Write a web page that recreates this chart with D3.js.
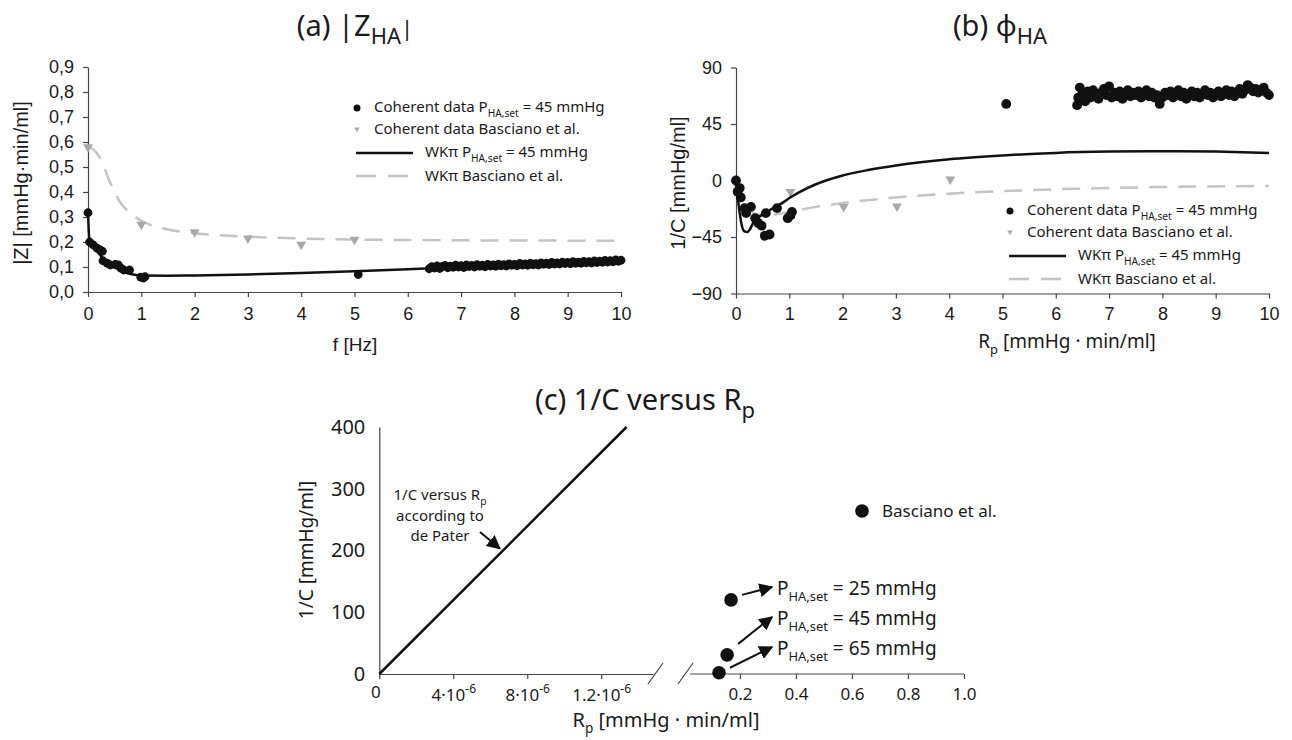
<!DOCTYPE html>
<html>
<head>
<meta charset="utf-8">
<title>WKπ impedance fit</title>
<script src="https://cdn.jsdelivr.net/npm/d3@7"></script>
<style>
  body { margin: 0; background: #fff; }
  text { font-family: "Noto Sans", "Open Sans", sans-serif; fill: #1a1a1a; }
  .num text, text.num { font-family: "Liberation Sans", Arial, sans-serif; }
  .axis path, .axis line { stroke: #444; stroke-width: 1.2; }
</style>
</head>
<body>
<div id="chart"></div>
<script>
// ---- panel (a) |Z_HA| ----
var zTicksX = [0,1,2,3,4,5,6,7,8,9,10];
var zTicksY = [0,0.1,0.2,0.3,0.4,0.5,0.6,0.7,0.8,0.9];
var zCoherent = [[0,0.317],[0.03,0.2],[0.1,0.188],[0.17,0.175],[0.23,0.168],[0.27,0.163],[0.28,0.125],[0.36,0.115],[0.42,0.108],[0.51,0.11],[0.57,0.108],[0.62,0.095],[0.67,0.088],[0.78,0.088],[0.99,0.059],[1.04,0.056],[1.07,0.061],[5.07,0.07],
  [6.4,0.093],[6.45,0.101],[6.5,0.096],[6.55,0.104],[6.6,0.094],[6.65,0.102],[6.7,0.106],[6.75,0.097],[6.8,0.103],[6.85,0.099],[6.9,0.107],[6.95,0.1],[7.0,0.105],[7.05,0.098],[7.1,0.108],[7.15,0.102],[7.2,0.106],[7.25,0.1],[7.3,0.109],[7.35,0.103],[7.4,0.107],[7.45,0.101],[7.5,0.11],[7.55,0.104],[7.6,0.108],[7.65,0.103],[7.7,0.111],[7.75,0.105],[7.8,0.109],[7.85,0.104],[7.9,0.112],[7.95,0.107],[8.0,0.11],[8.05,0.105],[8.1,0.114],[8.15,0.108],[8.2,0.112],[8.25,0.107],[8.3,0.115],[8.35,0.109],[8.4,0.113],[8.45,0.108],[8.5,0.116],[8.55,0.111],[8.6,0.115],[8.65,0.11],[8.7,0.118],[8.75,0.112],[8.8,0.116],[8.85,0.112],[8.9,0.119],[8.95,0.114],[9.0,0.118],[9.05,0.113],[9.1,0.121],[9.15,0.115],[9.2,0.119],[9.25,0.115],[9.3,0.122],[9.35,0.117],[9.4,0.121],[9.45,0.116],[9.5,0.124],[9.55,0.118],[9.6,0.123],[9.65,0.119],[9.7,0.126],[9.75,0.12],[9.8,0.125],[9.85,0.121],[9.9,0.128],[9.95,0.123],[10.0,0.127]];
var zBasciano = [[0,0.58],[1,0.27],[2,0.24],[3,0.215],[4,0.19],[5,0.21]];
var zFit = [[0,0.317],[0.03,0.2],[0.1,0.18],[0.2,0.155],[0.3,0.13],[0.4,0.112],[0.5,0.098],[0.6,0.087],[0.7,0.078],[0.8,0.072],[0.9,0.068],[1,0.066],[1.5,0.065],[2,0.066],[3,0.07],[4,0.076],[5,0.083],[6,0.091],[7,0.1],[8,0.109],[9,0.118],[10,0.126]];
var zFitBasciano = [[0,0.58],[0.1,0.57],[0.2,0.545],[0.3,0.5],[0.4,0.445],[0.5,0.4],[0.6,0.36],[0.8,0.315],[1,0.285],[1.5,0.25],[2,0.235],[3,0.221],[4,0.214],[5,0.21],[6,0.208],[8,0.206],[10,0.205]];

// ---- panel (b) phi_HA ----
var pTicksX = [0,1,2,3,4,5,6,7,8,9,10];
var pTicksY = [-90,-45,0,45,90];
var pCoherent = [[0,0],[0.03,-9],[0.07,-6],[0.09,-13.5],[0.16,-22],[0.19,-26],[0.28,-21],[0.36,-30],[0.42,-34],[0.48,-36],[0.54,-44],[0.63,-43],[0.56,-26],[0.77,-22],[0.97,-30],[1.02,-28],[1.05,-25],[5.07,61],
  [6.4,60],[6.42,66],[6.45,74],[6.5,69],[6.55,63],[6.6,71],[6.65,66],[6.7,72],[6.75,68],[6.8,65],[6.85,70],[6.9,73],[6.95,68],[7.0,75],[7.05,66],[7.1,70],[7.15,67],[7.2,71],[7.25,65],[7.3,69],[7.35,72],[7.4,67],[7.45,70],[7.5,68],[7.55,71],[7.6,66],[7.65,69],[7.7,72],[7.75,67],[7.8,70],[7.85,66],[7.9,68],[7.95,61],[8.0,66],[8.05,70],[8.1,68],[8.15,71],[8.2,66],[8.25,69],[8.3,72],[8.35,67],[8.4,70],[8.45,65],[8.5,68],[8.55,71],[8.6,67],[8.65,70],[8.7,66],[8.75,69],[8.8,72],[8.85,68],[8.9,70],[8.95,66],[9.0,69],[9.05,71],[9.1,67],[9.15,70],[9.2,72],[9.25,68],[9.3,71],[9.35,67],[9.4,70],[9.45,73],[9.5,69],[9.55,72],[9.6,76],[9.65,74],[9.7,71],[9.75,73],[9.8,70],[9.85,72],[9.9,74],[9.95,70],[10.0,68]];
var pBasciano = [[0,-2],[1.02,-9],[2.02,-21],[3.02,-20.5],[4.02,1]];
var pFit = [[0,0],[0.03,-12],[0.07,-26],[0.11,-36],[0.16,-40.5],[0.21,-41],[0.26,-39],[0.32,-34],[0.4,-30],[0.5,-27],[0.7,-22],[0.9,-17],[1.0,-14],[1.2,-9],[1.5,-3],[2,4],[2.5,8.5],[3,12],[4,17],[5,20],[6,22],[7,23],[8,23.3],[9,23],[10,22]];
var pFitBasciano = [[0,0],[0.1,-12],[0.2,-20],[0.3,-25],[0.4,-27],[0.6,-27.5],[0.8,-26.5],[1,-25],[1.5,-21],[2,-18],[3,-13.5],[4,-10.5],[5,-8.5],[6,-7],[7,-6],[8,-5.2],[9,-4.7],[10,-4.3]];

// ---- panel (c) 1/C versus Rp ----
var cTicksY = [0,100,200,300,400];
var cTicksLeft = [0, 4e-6, 8e-6, 1.2e-5];
var cTickLeftLabels = [["0",""],["4·10","-6"],["8·10","-6"],["1.2·10","-6"]];
var cTicksRight = [0.2,0.4,0.6,0.8,1.0];
var dePater = [[0,0],[1.337e-5,400]];
var cBasciano = [[0.168,120],[0.154,31],[0.125,2]];
var cSetLabels = ["25","45","65"];

var W = 1292, H = 740;
var svg = d3.select("#chart").append("svg").attr("width", W).attr("height", H);
svg.append("rect").attr("width", W).attr("height", H).attr("fill", "#fff");

// arrow marker
svg.append("defs").append("marker")
  .attr("id", "arr").attr("viewBox", "0 0 10 10").attr("refX", 9).attr("refY", 5)
  .attr("markerWidth", 7).attr("markerHeight", 7).attr("orient", "auto")
  .append("path").attr("d", "M0,0 L10,5 L0,10 z").attr("fill", "#111");

var tri = d3.symbol().type(d3.symbolTriangle).size(42);
var grayMark = "#a8a8a8", grayLine = "#c4c4c4";

function drawTitle(x, y, parts) {
  var t = svg.append("text").attr("x", x).attr("y", y).attr("text-anchor", "middle").attr("font-size", 29);
  parts.forEach(function(p) {
    t.append("tspan").text(p[0]).attr("font-size", p[1] ? 22 : 29).attr("dy", p[1] || 0);
  });
  return t;
}

// subscript helper for legend / label texts
function richText(sel, parts, size) {
  parts.forEach(function(p) {
    var ts = sel.append("tspan").text(p.t);
    if (p.sub) ts.attr("font-size", size * 0.68).attr("dy", size * 0.3);
    else if (p.sup) ts.attr("font-size", size * 0.68).attr("dy", -size * 0.45);
    else if (p.back) ts.attr("dy", p.back);
  });
}

function drawLegend(x, y) {
  var g = svg.append("g");
  var fs = 15;
  g.append("circle").attr("cx", x).attr("cy", y - 4).attr("r", 3.5).attr("fill", "#111");
  richText(g.append("text").attr("x", x + 17).attr("y", y).attr("font-size", fs),
    [{t:"Coherent data P"},{t:"HA,set",sub:1},{t:" = 45 mmHg",back:-fs*0.3}], fs);
  g.append("path").attr("d", tri).attr("transform", "translate(" + x + "," + (y + 17) + ") rotate(180) scale(0.55)").attr("fill", grayMark);
  g.append("text").attr("x", x + 17).attr("y", y + 22).attr("font-size", fs).text("Coherent data Basciano et al.");
  g.append("line").attr("x1", x - 1).attr("x2", x + 56).attr("y1", y + 41).attr("y2", y + 41).attr("stroke", "#111").attr("stroke-width", 2.5);
  richText(g.append("text").attr("x", x + 68).attr("y", y + 45).attr("font-size", fs),
    [{t:"WKπ P"},{t:"HA,set",sub:1},{t:" = 45 mmHg",back:-fs*0.3}], fs);
  g.append("line").attr("x1", x - 1).attr("x2", x + 56).attr("y1", y + 64).attr("y2", y + 64).attr("stroke", grayLine).attr("stroke-width", 2.5).attr("stroke-dasharray", "20,12");
  g.append("text").attr("x", x + 68).attr("y", y + 69).attr("font-size", fs).text("WKπ Basciano et al.");
}

// ========== panel (a) ==========
var xa = d3.scaleLinear().domain([0, 10]).range([88, 621]);
var ya = d3.scaleLinear().domain([0, 0.9]).range([292, 67]);
var comma = function(d) { return d3.format(".1f")(d).replace(".", ","); };

svg.append("g").attr("class", "axis num").attr("transform", "translate(0,292)")
  .call(d3.axisBottom(xa).tickValues(zTicksX).tickSize(5).tickPadding(10).tickSizeOuter(0))
  .selectAll("text").attr("font-size", 18).attr("fill", "#1a1a1a");
svg.append("g").attr("class", "axis num").attr("transform", "translate(88,0)")
  .call(d3.axisLeft(ya).tickValues(zTicksY).tickFormat(comma).tickSize(5).tickPadding(9).tickSizeOuter(0))
  .selectAll("text").attr("font-size", 18).attr("fill", "#1a1a1a");

var lineA = d3.line().x(function(d){return xa(d[0]);}).y(function(d){return ya(d[1]);}).curve(d3.curveMonotoneX);
svg.append("path").datum(zFitBasciano).attr("d", lineA).attr("fill", "none").attr("stroke", grayLine).attr("stroke-width", 2.5).attr("stroke-dasharray", "18,11");
svg.selectAll(".za-tri").data(zBasciano).join("path").attr("class", "za-tri")
  .attr("d", tri).attr("transform", function(d){ return "translate(" + xa(d[0]) + "," + ya(d[1]) + ") rotate(180)"; }).attr("fill", grayMark);
svg.append("path").datum(zFit).attr("d", lineA).attr("fill", "none").attr("stroke", "#111").attr("stroke-width", 2.5);
svg.selectAll(".za-dot").data(zCoherent).join("circle").attr("class", "za-dot")
  .attr("cx", function(d){return xa(d[0]);}).attr("cy", function(d){return ya(d[1]);}).attr("r", 4.4).attr("fill", "#111");

drawTitle(355, 36, [["(a) |Z"],["HA", 8],["|", -8]]);
svg.append("text").attr("transform", "translate(28,183) rotate(-90)").attr("text-anchor", "middle")
  .attr("class", "num").attr("font-size", 20).text("|Z| [mmHg·min/ml]");
svg.append("text").attr("x", 355).attr("y", 351).attr("text-anchor", "middle").attr("class", "num").attr("font-size", 19).text("f [Hz]");
drawLegend(357, 112);

// ========== panel (b) ==========
var xb = d3.scaleLinear().domain([0, 10]).range([736, 1269]);
var yb = d3.scaleLinear().domain([-90, 90]).range([293.5, 67.5]);

svg.append("g").attr("class", "axis num").attr("transform", "translate(0," + yb(-90) + ")")
  .call(d3.axisBottom(xb).tickValues(pTicksX).tickSize(5).tickPadding(9).tickSizeOuter(0))
  .selectAll("text").attr("font-size", 18).attr("fill", "#1a1a1a");
svg.append("g").attr("class", "axis num").attr("transform", "translate(736,0)")
  .call(d3.axisLeft(yb).tickValues(pTicksY).tickSize(5).tickPadding(9).tickSizeOuter(0))
  .selectAll("text").attr("font-size", 18).attr("fill", "#1a1a1a");

var lineB = d3.line().x(function(d){return xb(d[0]);}).y(function(d){return yb(d[1]);}).curve(d3.curveMonotoneX);
svg.append("path").datum(pFitBasciano).attr("d", lineB).attr("fill", "none").attr("stroke", grayLine).attr("stroke-width", 2.5).attr("stroke-dasharray", "18,11");
svg.selectAll(".pb-tri").data(pBasciano).join("path").attr("class", "pb-tri")
  .attr("d", tri).attr("transform", function(d){ return "translate(" + xb(d[0]) + "," + yb(d[1]) + ") rotate(180)"; }).attr("fill", grayMark);
svg.append("path").datum(pFit).attr("d", lineB).attr("fill", "none").attr("stroke", "#111").attr("stroke-width", 2.5);
svg.selectAll(".pb-dot").data(pCoherent).join("circle").attr("class", "pb-dot")
  .attr("cx", function(d){return xb(d[0]);}).attr("cy", function(d){return yb(d[1]);}).attr("r", 4.9).attr("fill", "#111");

drawTitle(1000, 36, [["(b) φ"],["HA", 8]]);
svg.append("text").attr("transform", "translate(685,183) rotate(-90)").attr("text-anchor", "middle")
  .attr("class", "num").attr("font-size", 20).text("1/C [mmHg/ml]");
richText(svg.append("text").attr("x", 1067).attr("y", 348).attr("text-anchor", "middle").attr("font-size", 19),
  [{t:"R"},{t:"p",sub:1},{t:" [mmHg · min/ml]",back:-5.7}], 19);
drawLegend(1010, 215);

// ========== panel (c) ==========
var yc = d3.scaleLinear().domain([0, 400]).range([674, 427]);
var xcl = d3.scaleLinear().domain([0, 1.48e-5]).range([379.3, 653]);
var xcr = d3.scaleLinear().domain([0, 1]).range([684, 964]);

var gy = svg.append("g").attr("class", "axis").attr("transform", "translate(379.3,0)")
  .call(d3.axisLeft(yc).tickValues(cTicksY).tickSize(0).tickPadding(14).tickSizeOuter(0));
gy.selectAll("text").attr("font-size", 20).attr("font-family", "'Noto Sans', sans-serif").attr("fill", "#1a1a1a");

var gl = svg.append("g").attr("class", "axis").attr("transform", "translate(0,674)")
  .call(d3.axisBottom(xcl).tickValues(cTicksLeft).tickSize(5).tickFormat("").tickSizeOuter(0));
gl.selectAll(".tick").each(function(d, i) {
  var t = d3.select(this).append("text").attr("y", i === 0 ? 24 : 27).attr("x", i === 0 ? -4 : 0)
    .attr("text-anchor", "middle").attr("font-size", 17).attr("fill", "#1a1a1a").attr("font-family", "'Noto Sans', sans-serif");
  t.append("tspan").text(cTickLeftLabels[i][0]);
  if (cTickLeftLabels[i][1]) t.append("tspan").text(cTickLeftLabels[i][1]).attr("font-size", 12).attr("dy", -8);
});

var gr = svg.append("g").attr("class", "axis").attr("transform", "translate(0,674)")
  .call(d3.axisBottom(xcr).tickValues(cTicksRight).tickFormat(d3.format(".1f")).tickSize(5).tickPadding(9).tickSizeOuter(0));
gr.select(".domain").attr("d", "M" + (xcr(0) + 6) + ",0H" + xcr(1));
gr.selectAll("text").attr("font-size", 17).attr("fill", "#1a1a1a").attr("font-family", "'Noto Sans', sans-serif");
// axis break marks
[xcl.range()[1] - 5, xcr(0) - 6].forEach(function(bx) {
  svg.append("line").attr("x1", bx).attr("y1", 684).attr("x2", bx + 15).attr("y2", 663).attr("stroke", "#444").attr("stroke-width", 1.2);
});

svg.append("path").datum(dePater)
  .attr("d", d3.line().x(function(d){return xcl(d[0]);}).y(function(d){return yc(d[1]);}))
  .attr("fill", "none").attr("stroke", "#111").attr("stroke-width", 2.5);

var ann = svg.append("text").attr("text-anchor", "middle").attr("font-size", 15);
richText(ann.append("tspan").attr("x", 440).attr("y", 500), [{t:"1/C versus R"},{t:"p",sub:1}], 15);
ann.append("tspan").attr("x", 440).attr("y", 521).text("according to");
ann.append("tspan").attr("x", 440).attr("y", 541).text("de Pater");
svg.append("line").attr("x1", 480).attr("y1", 532).attr("x2", xcl(6.68e-6) - 3).attr("y2", yc(200) - 2)
  .attr("stroke", "#111").attr("stroke-width", 2).attr("marker-end", "url(#arr)");

svg.selectAll(".c-dot").data(cBasciano).join("circle").attr("class", "c-dot")
  .attr("cx", function(d){return xcr(d[0]);}).attr("cy", function(d){return yc(d[1]);}).attr("r", 6.8).attr("fill", "#111");

var setY = [595, 625, 655];
cBasciano.forEach(function(d, i) {
  svg.append("line").attr("x1", xcr(d[0]) + 11).attr("y1", yc(d[1]) - 5 - (i === 1 ? 6 : 0))
    .attr("x2", 772).attr("y2", setY[i] - 8)
    .attr("stroke", "#111").attr("stroke-width", 2).attr("marker-end", "url(#arr)");
  richText(svg.append("text").attr("x", 777).attr("y", setY[i]).attr("font-size", 19),
    [{t:"P"},{t:"HA,set",sub:1},{t:" = " + cSetLabels[i] + " mmHg",back:-19*0.3}], 19);
});

svg.append("circle").attr("cx", 862).attr("cy", 511).attr("r", 6.8).attr("fill", "#111");
svg.append("text").attr("x", 882).attr("y", 517).attr("font-size", 17).text("Basciano et al.");

drawTitle(645, 410, [["(c) 1/C versus R"],["p", 8]]);
svg.append("text").attr("transform", "translate(313,550) rotate(-90)").attr("text-anchor", "middle")
  .attr("font-size", 19).text("1/C [mmHg/ml]");
richText(svg.append("text").attr("x", 666).attr("y", 727).attr("text-anchor", "middle").attr("font-size", 20),
  [{t:"R"},{t:"p",sub:1},{t:" [mmHg · min/ml]",back:-6}], 20);
</script>
</body>
</html>
